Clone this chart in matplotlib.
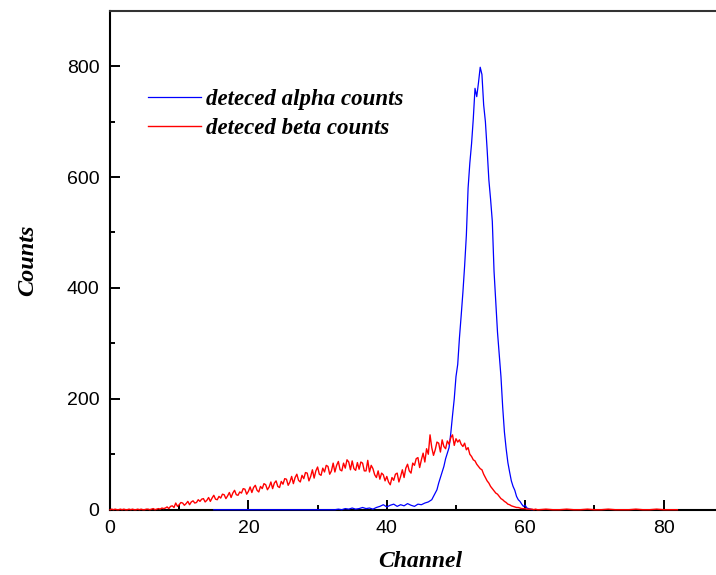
import matplotlib
matplotlib.use("Agg")
import matplotlib.pyplot as plt
import numpy as np

# channel spectra
# beta (red): 0.25 channel steps from 0 to 61.75, then 1 channel steps 62..82
beta_counts = [
    0, 1, 0, 1, 0, 0, 1, 0, 1, 0, 0, 1, 0, 1, 0, 0,
    1, 0, 1, 0, 0, 1, 1, 0, 1, 2, 0, 1, 2, 1, 3, 2,
    3, 5, 2, 6, 7, 4, 12, 6, 9, 13, 12, 8, 11, 15, 9, 14,
    16, 12, 13, 18, 15, 19, 20, 14, 17, 22, 15, 21, 26, 19, 18, 24,
    21, 28, 27, 20, 25, 31, 22, 30, 35, 27, 26, 32, 30, 38, 37, 28,
    33, 41, 31, 40, 44, 35, 32, 42, 38, 47, 45, 36, 41, 50, 38, 48,
    52, 42, 40, 51, 46, 56, 55, 44, 50, 60, 47, 58, 64, 53, 50, 62,
    56, 67, 66, 52, 60, 72, 57, 70, 77, 64, 62, 75, 68, 80, 78, 64,
    70, 84, 68, 80, 87, 72, 70, 84, 75, 90, 86, 72, 88, 74, 71, 85,
    73, 86, 84, 70, 70, 89, 68, 80, 74, 63, 58, 70, 55, 66, 63, 52,
    60, 50, 45, 58, 53, 64, 66, 50, 60, 72, 58, 75, 82, 70, 66, 84,
    80, 92, 94, 76, 90, 102, 86, 110, 100, 135, 112, 98, 108, 122, 120, 104,
    126, 114, 110, 124, 118, 130, 135, 116, 128, 122, 126, 118, 114, 120, 108, 112,
    100, 96, 90, 88, 82, 78, 74, 72, 64, 58, 52, 48, 42, 38, 34, 30,
    28, 24, 20, 18, 15, 13, 10, 9, 7, 6, 5, 4, 4, 3, 2, 2,
    2, 1, 1, 1, 1, 0, 1, 0,
]
beta_tail = [0, 1, 0, 0, 1, 0, 0, 1, 0, 0, 1, 0, 0, 0, 1, 0, 0, 1, 0, 0, 0]

# alpha (blue): 0.5 channel steps 15..46.5, then 0.25 steps 47..61
alpha_low = [
    0, 0, 0, 0, 0, 0, 0, 0, 0, 0, 0, 0, 0, 0, 0, 0, 0, 0,
    0, 0, 0, 0, 0, 0, 0, 0, 0, 0, 0, 0, 0, 0, 0, 0, 0, 0,
    1, 0, 2, 1, 3, 1, 2, 4, 2, 3, 1, 4,
    6, 9, 5, 8, 10, 6, 9, 7, 11, 8, 6, 10, 9, 12, 14, 18,
]
alpha_peak = [
    30, 36, 48, 58, 68, 78, 92, 102, 112, 138, 170, 200,
    240, 262, 310, 350, 392, 440, 495, 580, 625, 660, 705, 760,
    745, 770, 798, 785, 730, 700, 650, 595, 560, 520, 430, 375,
    320, 280, 240, 185, 140, 110, 85, 68, 52, 42, 35, 24,
    18, 15, 10, 6, 8, 3, 2, 1, 0,
]

beta_ch = np.concatenate([np.arange(0, 62, 0.25), np.arange(62, 83, 1.0)])
beta = np.array(beta_counts + beta_tail)
alpha_ch = np.concatenate([np.arange(15, 47, 0.5), np.arange(47, 61.01, 0.25)])
alpha = np.array(alpha_low + alpha_peak)

serif = dict(family="Liberation Serif", weight="bold", style="italic")

fig = plt.figure(figsize=(7.16, 5.75), dpi=100)
ax = fig.add_axes([110 / 716, 65.3 / 575, 620 / 716, 499 / 575])

ax.plot(alpha_ch, alpha, color="#0000ff", lw=0.9, zorder=3, clip_on=False,
        label="deteced alpha counts")
ax.plot(beta_ch, beta, color="#ff0000", lw=1.0, zorder=3, clip_on=False,
        label="deteced beta counts")

ax.set_xlim(0, 89.6)
ax.set_ylim(0, 900)
ax.set_xticks([0, 20, 40, 60, 80])
ax.set_xticks([10, 30, 50, 70], minor=True)
ax.set_yticks([0, 200, 400, 600, 800])
ax.set_yticks([100, 300, 500, 700], minor=True)

ax.spines["right"].set_visible(False)
for s in ["left", "bottom", "top"]:
    ax.spines[s].set_linewidth(1.5)
ax.spines["top"].set_color("#333333")

ax.tick_params(which="both", direction="in", top=False, right=False, width=1.4)
ax.tick_params(which="major", length=7.2, labelsize=14, pad=7.5)
ax.tick_params(which="minor", length=3.5)
for lab in ax.get_xticklabels() + ax.get_yticklabels():
    lab.set_family("Liberation Sans")

ax.set_xlabel("Channel", fontsize=17, labelpad=10, **serif)
ax.set_ylabel("Counts", fontsize=17.5, va="center", **serif)
ax.yaxis.set_label_coords((28 - 110) / 620, 0.5)

ax.legend(loc="upper left", bbox_to_anchor=(148 / 716, 1 - 89 / 575),
          bbox_transform=fig.transFigure, frameon=False, borderpad=0,
          borderaxespad=0, handlelength=2.3, handletextpad=0.25,
          labelspacing=0.35, prop=dict(size=16.5, **serif))

fig.savefig("out.png", dpi=100)
